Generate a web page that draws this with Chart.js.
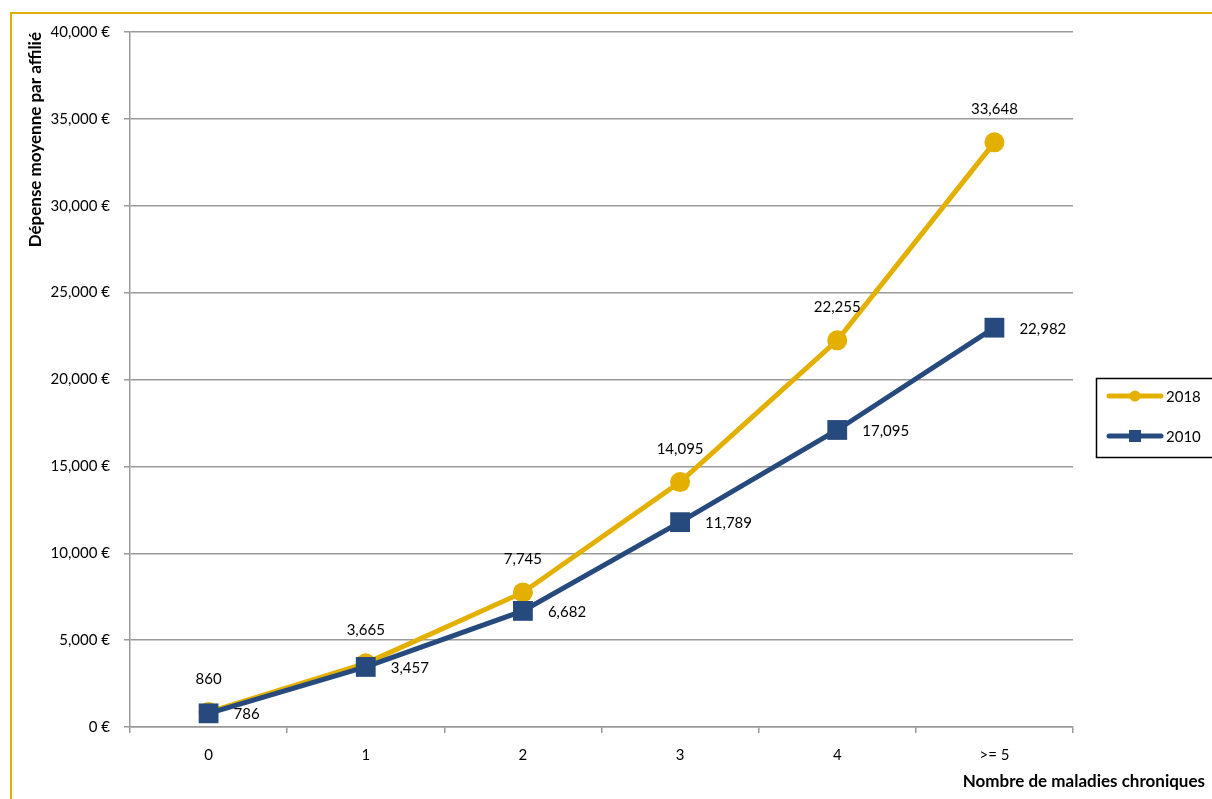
<!DOCTYPE html>
<html>
<head>
<meta charset="utf-8">
<script src="https://cdn.jsdelivr.net/npm/chart.js@4.4.1/dist/chart.umd.min.js"></script>
<style>
  html, body { margin: 0; padding: 0; background: #fff; }
  #wrap { position: relative; width: 1212px; height: 799px; }
</style>
</head>
<body>
<div id="wrap"><canvas id="chart" width="1212" height="799"></canvas></div>
<script>
// Categories: number of chronic diseases
const categories = ['0', '1', '2', '3', '4', '>= 5'];
// Average spending per insured person (€)
const values2018 = [860, 3665, 7745, 14095, 22255, 33648];
const values2010 = [786, 3457, 6682, 11789, 17095, 22982];
const seriesNames = ['2018', '2010'];
const yTicks = [0, 5000, 10000, 15000, 20000, 25000, 30000, 35000, 40000];

const GOLD = '#E3B000';
const NAVY = '#264A7D';
const GRID = '#9A9A9A';
const FONT = 'Lato, "Open Sans", sans-serif';

const numFmt = v => v.toLocaleString('en-US');

// Outer frame of the figure
const framePlugin = {
  id: 'frame',
  beforeDraw(chart) {
    const ctx = chart.ctx;
    ctx.save();
    ctx.strokeStyle = GOLD;
    ctx.lineWidth = 2;
    ctx.strokeRect(11, 13, 1240, 820);
    ctx.restore();
  }
};

// Value labels: 2018 above each point, 2010 to the right
const valueLabels = {
  id: 'valueLabels',
  afterDatasetsDraw(chart) {
    const ctx = chart.ctx;
    ctx.save();
    ctx.font = '15px ' + FONT;
    ctx.fillStyle = '#000';
    ctx.textBaseline = 'middle';
    chart.data.datasets.forEach((ds, i) => {
      const meta = chart.getDatasetMeta(i);
      meta.data.forEach((pt, j) => {
        const txt = numFmt(ds.data[j]);
        if (ds.label === '2018') {
          ctx.textAlign = 'center';
          ctx.fillText(txt, pt.x, pt.y - 33);
        } else {
          ctx.textAlign = 'left';
          ctx.fillText(txt, pt.x + 25, pt.y + 1);
        }
      });
    });
    ctx.restore();
  }
};

// Boxed legend at the right and the x-axis title
const sideLegend = {
  id: 'sideLegend',
  afterDraw(chart) {
    const ctx = chart.ctx;
    ctx.save();
    const bx = 1096, by = 378, bw = 120, bh = 79;
    ctx.strokeStyle = '#000';
    ctx.lineWidth = 1.5;
    ctx.strokeRect(bx + 0.5, by + 0.5, bw, bh);
    chart.data.datasets.forEach((ds, i) => {
      const y = by + 18 + i * 40;
      ctx.strokeStyle = ds.borderColor;
      ctx.lineWidth = 5;
      ctx.lineCap = 'round';
      ctx.beginPath();
      ctx.moveTo(1109, y);
      ctx.lineTo(1161, y);
      ctx.stroke();
      ctx.fillStyle = ds.borderColor;
      if (ds.pointStyle === 'circle') {
        ctx.beginPath();
        ctx.arc(1135, y, 5.5, 0, Math.PI * 2);
        ctx.fill();
      } else {
        ctx.fillRect(1129, y - 6, 12, 12);
      }
      ctx.fillStyle = '#000';
      ctx.font = '15px ' + FONT;
      ctx.textAlign = 'left';
      ctx.textBaseline = 'middle';
      ctx.fillText(ds.label, 1166, y + 1);
    });
    ctx.font = 'bold 17px ' + FONT;
    ctx.textAlign = 'right';
    ctx.textBaseline = 'middle';
    ctx.fillStyle = '#000';
    ctx.fillText('Nombre de maladies chroniques', 1205, 782);
    ctx.restore();
  }
};

new Chart(document.getElementById('chart'), {
  type: 'line',
  data: {
    labels: categories,
    datasets: [
      {
        label: seriesNames[0],
        data: values2018,
        borderColor: GOLD,
        backgroundColor: GOLD,
        borderWidth: 5,
        pointStyle: 'circle',
        pointRadius: 10,
        pointHoverRadius: 10,
        pointBorderWidth: 0,
        tension: 0,
        order: 2
      },
      {
        label: seriesNames[1],
        data: values2010,
        borderColor: NAVY,
        backgroundColor: NAVY,
        borderWidth: 5,
        pointStyle: 'rect',
        pointRadius: 14,
        pointHoverRadius: 14,
        pointBorderWidth: 0,
        tension: 0,
        order: 1
      }
    ]
  },
  options: {
    responsive: false,
    animation: false,
    events: [],
    layout: { padding: { top: 32, right: 139, bottom: 0, left: 0 } },
    plugins: {
      legend: { display: false },
      tooltip: { enabled: false }
    },
    scales: {
      x: {
        offset: true,
        grid: {
          offset: true,
          drawOnChartArea: false,
          drawTicks: true,
          tickLength: 6,
          color: GRID,
          lineWidth: 1.5
        },
        border: { color: GRID, width: 1.5 },
        ticks: { color: '#000', font: { family: FONT, size: 15 }, padding: 13, maxRotation: 0 },
        afterFit(scale) { scale.height = 72; }
      },
      y: {
        min: 0,
        max: 40000,
        afterBuildTicks(scale) { scale.ticks = yTicks.map(v => ({ value: v })); },
        grid: { color: GRID, lineWidth: 1.5, tickLength: 6, drawTicks: true },
        border: { color: GRID, width: 1.5 },
        ticks: {
          color: '#000',
          font: { family: FONT, size: 15 },
          padding: 14,
          callback: v => numFmt(v) + ' €'
        },
        title: {
          display: true,
          text: 'Dépense moyenne par affilié',
          align: 'end',
          color: '#000',
          font: { family: FONT, size: 17, weight: 'bold' },
          padding: { top: 25, bottom: 0 }
        },
        afterFit(scale) { scale.width = 130; }
      }
    }
  },
  plugins: [framePlugin, valueLabels, sideLegend]
});
</script>
</body>
</html>
